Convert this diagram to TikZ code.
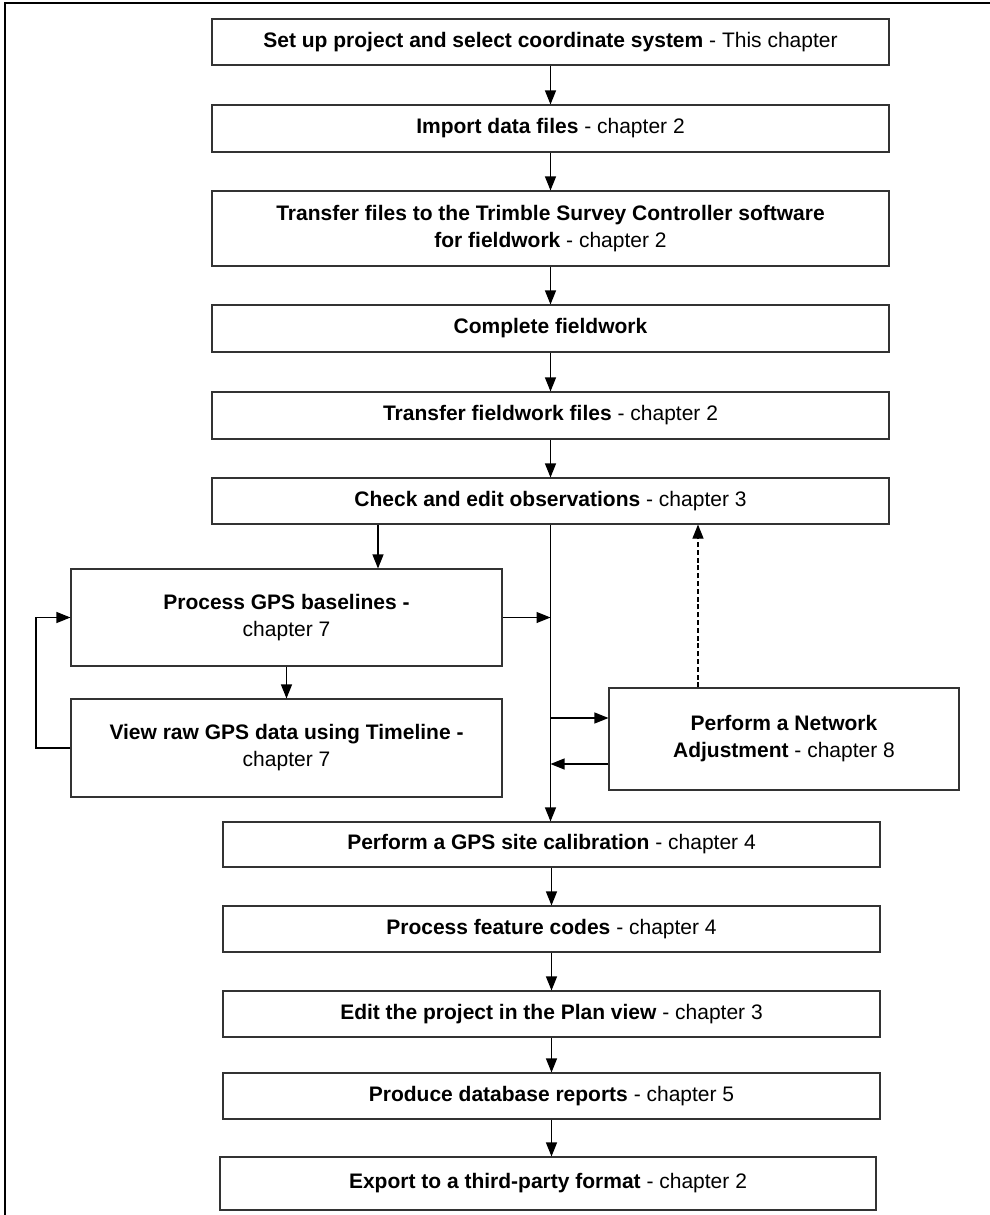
\documentclass[tikz,border=0pt]{standalone}
\usepackage{fontspec}
\setmainfont{Liberation Sans}
\usetikzlibrary{arrows.meta}
\begin{document}
\begin{tikzpicture}[x=0.5pt,y=-0.5pt,
  box/.style={draw=black!80, line width=0.55pt, fill=white, align=center, inner sep=0pt,
    font=\fontsize{10.5}{13.5}\selectfont},
  bw/.style 2 args={minimum width=#1*0.5pt, minimum height=#2*0.5pt},
  arr/.style={-{Triangle[length=7pt,width=5.5pt]}, line width=0.55pt, draw=black},
  dasharr/.style={arr, dash pattern=on 2.5pt off 1.4pt},
  frame/.style={line width=1.2pt, draw=black}]
\useasboundingbox (0,0) rectangle (990,1215);
% frame
\coordinate (f0) at (4,3);
\coordinate (f1) at (990,3);
\coordinate (f2) at (5,1215);
\draw[frame] (f1) -- (f0 -| f2) -- (f2);
% boxes
\node[box, bw={677}{46}] (b1) at (550.5,42) {\textbf{Set up project and select coordinate system} - This chapter};
\node[box, bw={677}{47}] (b2) at (550.5,128.5) {\textbf{Import data files} - chapter 2};
\node[box, bw={677}{75}] (b3) at (550.5,228.5) {\textbf{Transfer files to the Trimble Survey Controller software}\\\textbf{for fieldwork} - chapter 2};
\node[box, bw={677}{47}] (b4) at (550.5,328.5) {\textbf{Complete fieldwork}};
\node[box, bw={677}{47}] (b5) at (550.5,415.5) {\textbf{Transfer fieldwork files} - chapter 2};
\node[box, bw={677}{46}] (b6) at (550.5,501) {\textbf{Check and edit observations} - chapter 3};
\node[box, bw={431}{97}] (b7) at (286.5,617.5) {\textbf{Process GPS baselines -}\\chapter 7};
\node[box, bw={431}{98}] (b8) at (286.5,748) {\textbf{View raw GPS data using Timeline -}\\chapter 7};
\node[box, bw={350}{102}] (net) at (784,739) {\textbf{Perform a Network}\\\textbf{Adjustment} - chapter 8};
\node[box, bw={657}{45}] (b9) at (551.5,844.5) {\textbf{Perform a GPS site calibration} - chapter 4};
\node[box, bw={657}{46}] (b10) at (551.5,929) {\textbf{Process feature codes} - chapter 4};
\node[box, bw={657}{46}] (b11) at (551.5,1014) {\textbf{Edit the project in the Plan view} - chapter 3};
\node[box, bw={657}{46}] (b12) at (551.5,1096) {\textbf{Produce database reports} - chapter 5};
\node[box, bw={656}{53}] (b13) at (548,1183.5) {\textbf{Export to a third-party format} - chapter 2};
% helper coordinates
\coordinate (k1) at (378,0);
\coordinate (k2) at (0,718);
\coordinate (k3) at (0,764);
\coordinate (k4) at (698,0);
\coordinate (k5) at (36,0);
% connectors
\draw[arr] (b1.south) -- (b2.north);
\draw[arr] (b2.south) -- (b3.north);
\draw[arr] (b3.south) -- (b4.north);
\draw[arr] (b4.south) -- (b5.north);
\draw[arr] (b5.south) -- (b6.north);
\draw[arr] (b6.south -| k1) -- (b7.north -| k1);
\draw[arr] (b7.south) -- (b8.north);
\draw[arr] (b8.west) -- (b8.west -| k5) |- (b7.west);
\draw[arr] (b6.south) -- (b6.south |- b9.north);
\draw[arr] (b7.east) -- (b7.east -| b6.south);
\draw[arr] (b6.south |- k2) -- (net.west |- k2);
\draw[arr] (net.west |- k3) -- (b6.south |- k3);
\draw[dasharr] (net.north -| k4) -- (b6.south -| k4);
\draw[arr] (b9.south) -- (b10.north);
\draw[arr] (b10.south) -- (b11.north);
\draw[arr] (b11.south) -- (b12.north);
\draw[arr] (b12.south) -- (b12.south |- b13.north);
\end{tikzpicture}
\end{document}
